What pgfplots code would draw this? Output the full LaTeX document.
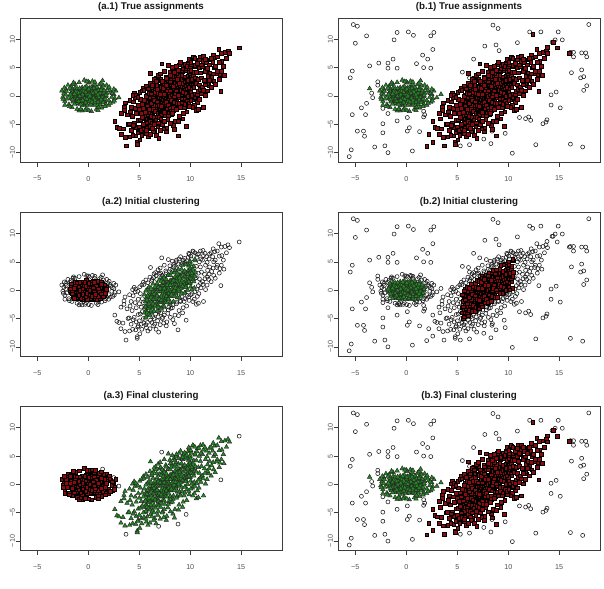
\documentclass[border=0pt]{standalone}
\usepackage{fontspec}
\setmainfont{Liberation Sans}
\usepackage{pgfplots}
\usepackage{pgfplotstable}
\pgfplotsset{compat=1.18}
\definecolor{rred}{RGB}{139,12,12}
\definecolor{ggreen}{RGB}{34,139,34}
\definecolor{axgray}{RGB}{60,60,60}
\definecolor{lblgray}{RGB}{80,80,80}

% green cluster: inner part
\pgfplotstableread{
x y
-1.5 0.3
-1.2 -0.8
-0.9 1.1
-0.7 -0.2
-0.4 0.6
-0.2 -1.3
0.0 0.2
0.3 -0.5
0.5 1.0
0.8 -0.1
1.1 0.7
1.3 -0.9
1.6 0.2
-1.7 -0.4
-1.4 1.0
-1.0 -1.4
-0.6 1.5
-0.3 -0.7
0.1 1.4
0.4 -1.6
0.7 0.4
1.0 -1.2
1.4 1.1
-0.8 0.3
-0.5 -1.0
-0.1 0.9
0.2 -0.1
0.6 -0.9
0.9 1.3
1.2 0.0
-1.3 -0.1
-1.1 0.5
-0.9 -0.6
-0.3 1.2
0.0 -0.4
0.3 0.7
0.6 -0.3
0.9 0.5
1.5 -0.5
-1.6 0.8
-1.2 -1.2
-0.4 -1.5
0.1 -1.0
0.5 1.6
1.0 -0.6
1.7 -0.1
-0.7 0.9
-0.2 0.0
0.4 0.2
0.8 1.0
-1.0 0.0
-0.6 -0.5
-0.1 -0.8
0.2 1.1
0.7 -1.4
1.1 0.3
1.3 1.5
-1.8 0.0
-1.5 -0.9
-1.3 1.4
-0.8 -1.1
-0.5 0.4
-0.2 1.7
0.0 0.5
0.3 -1.2
0.5 0.0
0.8 -0.8
1.2 -0.3
1.5 0.6
-1.1 1.3
-0.9 0.2
-0.6 -1.7
-0.3 -0.3
0.1 0.6
0.4 1.3
0.6 0.6
0.9 -1.6
1.3 0.4
1.6 -1.0
-1.4 -0.5
-1.0 0.8
-0.7 -0.9
-0.4 0.1
-0.1 -1.6
0.2 -0.7
0.5 -0.6
0.7 1.2
1.0 0.1
1.2 -1.5
-1.6 -0.2
-1.2 0.2
-0.8 0.6
-0.5 -1.3
-0.2 0.4
0.1 -0.2
0.4 0.9
0.6 -1.1
0.9 -0.3
1.4 -0.7
1.8 0.5
-0.6 1.1
-0.3 -1.0
0.0 1.0
0.3 0.0
0.8 0.2
1.1 -1.0
-1.3 0.6
-0.9 -0.3
-0.4 -0.4
0.2 0.3
0.6 0.9
1.0 1.0
-1.7 0.5
-0.1 0.1
0.5 -0.2
-0.8 -0.1
0.3 1.5
-1.1 -0.9
1.5 -0.2
-1.45 -1.05
-1.25 0.75
-1.05 -0.45
-0.85 1.35
-0.65 -0.15
-0.45 0.85
-0.25 -1.15
-0.05 0.35
0.15 -0.85
0.35 1.15
0.55 -0.35
0.75 0.75
0.95 -1.05
1.15 0.45
1.35 -0.25
1.55 0.95
1.65 -0.55
-1.75 0.25
-1.55 -0.65
-1.35 0.35
-1.15 -1.25
-0.95 0.55
-0.75 -1.45
-0.55 0.25
-0.35 1.45
-0.15 -0.55
0.05 1.25
0.25 -1.45
0.45 0.45
0.65 -0.75
0.85 1.55
1.05 -0.25
1.25 1.05
1.45 -1.15
-1.65 1.15
-0.95 -0.95
0.15 0.05
0.55 1.35
1.75 0.15
-1.35 -1.45
-0.55 -0.75
0.35 -1.05
0.95 0.25
-0.25 0.65
1.25 -0.65
-0.85 -0.05
}\Gcore

% green cluster: outer part
\pgfplotstableread{
x y
-2.4 0.5
-2.5 -0.2
-2.3 -0.9
-2.2 1.2
-2.0 1.9
-1.9 -1.5
-1.7 1.7
-1.6 -2.0
-1.3 2.1
-1.1 -2.3
-0.9 2.4
-0.6 -2.6
-0.4 2.8
-0.2 -2.2
0.1 2.3
0.3 -2.7
0.6 2.1
0.8 -2.3
1.1 2.0
1.3 -2.1
1.5 1.8
1.7 -1.5
1.9 1.3
2.0 -0.8
2.2 0.7
2.3 -0.2
2.1 1.0
2.5 0.3
2.7 0.9
2.4 -1.1
-2.6 0.9
-2.1 -0.5
-2.2 0.2
-0.9 -2.6
0.4 2.6
-1.5 2.1
2.0 -1.6
1.8 1.9
-0.3 -2.5
2.6 -0.4
-2.3 -1.6
1.0 -2.0
-1.8 1.4
0.0 2.5
-2.45 -0.55
-2.15 0.85
-1.85 -1.85
-1.45 2.35
-0.75 -2.35
0.05 -2.55
0.65 2.45
1.25 2.25
1.65 -1.85
2.05 1.55
2.35 0.45
2.15 -1.25
-2.35 1.45
-0.15 2.55
0.95 -2.55
2.55 -0.85
}\Gring

\pgfplotstableread{
x y
1.4 2.7
2.5 1.2
3.0 -0.3
}\Gfar

\pgfplotstableread{
x y
-3.6 1.3
3.4 0.3
}\Gbx

% elongated cluster: inner part
\pgfplotstableread{
x y
5.5 -3.1
5.6 -2.0
5.7 -1.3
5.7 -3.6
5.8 -2.6
5.9 -1.9
5.9 -3.2
6.0 -0.9
5.6 -2.9
6.0 -2.7
5.8 -1.0
6.1 -1.2
6.1 -2.9
6.2 -0.4
6.2 -2.0
6.3 -3.1
6.3 -1.5
6.4 -0.2
6.4 -2.4
6.5 -1.0
6.5 -2.8
6.5 0.1
6.6 -1.7
6.6 -0.5
6.7 -2.3
6.7 0.3
6.8 -1.1
6.8 -2.6
6.8 0.6
6.9 -0.3
6.9 -1.9
7.0 0.5
7.0 -1.4
7.0 -2.2
6.3 -2.6
6.6 -1.2
6.2 -1.0
6.9 0.2
6.4 -1.6
7.1 -0.2
7.1 -1.9
7.1 0.6
7.2 -1.0
7.2 -2.1
7.2 0.1
7.3 -0.6
7.3 -1.6
7.3 0.9
7.4 -0.1
7.4 -1.3
7.4 -2.0
7.5 0.4
7.5 -0.8
7.5 -1.7
7.5 1.2
7.6 -0.3
7.6 0.8
7.6 -1.5
7.7 0.1
7.7 -0.9
7.7 1.5
7.8 0.5
7.8 -1.2
7.8 -0.2
7.9 1.0
7.9 -0.6
7.9 0.3
8.0 -1.1
8.0 1.6
8.0 0.0
7.3 0.2
7.8 1.3
8.1 0.9
8.1 -0.8
8.1 1.7
8.2 0.2
8.2 -1.0
8.3 1.3
8.3 -0.3
8.3 2.0
8.4 0.6
8.4 -0.7
8.4 1.9
8.5 1.1
8.5 -0.2
8.5 2.3
8.6 0.3
8.6 1.6
8.6 -0.6
8.7 2.1
8.7 0.8
8.7 -0.3
8.8 1.4
8.8 2.5
8.8 0.1
8.9 1.0
8.9 2.7
8.9 -0.2
9.0 1.8
9.0 0.4
9.0 2.6
8.2 1.4
8.6 0.9
8.4 -0.1
9.1 1.0
9.1 2.4
9.1 0.3
9.2 1.7
9.2 3.0
9.3 0.8
9.3 2.2
9.4 1.4
9.4 3.2
9.4 0.6
9.5 2.5
9.5 1.1
9.6 3.1
9.6 1.8
9.6 0.7
9.7 2.7
9.7 1.3
9.8 3.5
9.8 2.0
9.9 1.2
9.9 3.0
10.0 2.2
10.0 3.8
10.0 1.3
10.1 2.0
10.1 3.4
10.2 2.7
10.3 1.9
10.3 3.6
10.4 2.5
10.5 3.2
5.5 -0.8
5.6 -4.9
5.8 0.2
6.0 -4.4
5.5 -4.0
6.2 -4.0
7.4 2.4
7.6 -2.1
7.8 2.6
7.2 2.0
8.0 -2.4
10.0 5.0
9.5 -0.4
9.7 4.6
10.4 0.4
10.5 5.2
5.65 -0.1
5.65 -4.7
5.75 -1.7
5.75 -4.0
5.95 0.5
5.95 -2.4
5.95 -4.2
6.05 -0.3
6.05 -4.5
6.15 -1.3
6.15 0.4
6.15 -3.6
6.35 -2.4
6.35 1.1
6.35 -0.3
6.45 -3.7
6.45 -0.7
6.55 0.6
6.55 -2.7
6.75 -3.7
6.75 1.2
6.75 -1.0
6.85 0.5
6.85 -3.0
6.95 -1.6
6.95 1.8
7.05 -3.2
7.05 0.3
7.15 1.6
7.15 -1.8
7.15 -3.3
7.35 1.4
7.35 -2.7
7.45 0.3
7.45 2.2
7.45 -2.9
7.65 -1.1
7.65 1.9
7.75 -2.2
7.75 0.9
7.85 2.7
7.85 -1.6
8.05 -2.1
8.05 2.6
8.05 0.9
8.15 -0.8
8.15 3.1
8.35 -2.0
8.35 1.7
8.45 3.1
8.45 -1.1
8.55 0.4
8.55 3.5
8.75 -1.3
8.75 2.9
8.85 0.1
8.85 3.6
8.95 -1.3
8.95 2.2
9.15 3.7
9.15 -0.5
9.25 0.7
9.25 4.4
9.45 -0.5
9.45 3.4
9.55 4.5
9.55 0.5
9.75 0.0
9.75 2.8
9.85 4.3
9.85 1.5
10.05 0.6
10.05 4.5
10.15 3.0
10.15 0.1
10.35 4.2
10.35 1.5
10.45 5.4
10.45 2.4
}\Rcore

% elongated cluster: outer part
\pgfplotstableread{
x y
2.6 -4.4
2.8 -5.5
3.0 -5.7
3.4 -5.8
3.5 -1.9
3.5 -2.5
3.8 -3.3
3.9 -5.0
4.0 -4.9
4.1 -2.8
4.2 -6.0
4.3 -3.6
4.4 -1.0
4.5 -4.8
4.5 0.5
4.6 -2.2
4.7 -5.6
4.7 -3.1
4.8 -8.2
4.8 -8.5
4.9 -1.6
4.9 -4.3
4.2 -2.0
4.6 -0.3
4.4 -5.2
4.9 -6.3
5.0 -5.4
5.0 -2.4
5.1 -0.6
5.1 -4.2
5.2 -3.0
5.2 -6.0
5.3 -1.5
5.3 -3.8
5.4 -5.0
5.4 1.4
5.4 -2.2
5.8 -5.7
6.1 4.0
5.7 -6.6
6.1 -5.3
6.2 1.6
6.3 -4.7
6.4 2.2
6.5 -6.0
6.6 -4.2
6.7 1.9
6.8 -5.4
7.0 2.8
6.4 -6.3
6.6 3.1
6.9 -3.8
7.1 -4.0
7.1 3.0
7.3 -4.8
7.5 -3.5
7.6 3.4
7.7 -5.6
7.9 -3.0
8.0 4.3
7.4 -5.8
7.8 -4.1
8.1 -3.2
8.2 3.5
8.3 -2.6
8.4 4.6
8.5 -4.4
8.6 3.9
8.7 -2.1
8.9 5.5
9.0 -1.9
8.3 -5.2
8.6 5.0
8.9 -3.6
9.1 4.5
9.2 -1.2
9.3 5.3
9.4 -2.0
9.5 4.9
9.7 -0.9
9.8 5.8
9.9 -1.8
9.3 -3.1
9.9 6.3
10.1 5.5
10.2 -0.6
10.3 6.8
10.6 2.2
10.6 4.2
10.7 -1.1
10.7 6.3
10.8 3.0
10.8 0.8
10.9 5.0
10.9 2.0
11.0 4.1
11.0 6.9
10.6 -2.5
10.8 -2.3
11.0 1.2
10.4 -1.6
11.1 3.2
11.2 5.3
11.2 1.5
11.3 6.1
11.4 2.8
11.5 4.4
11.5 0.1
11.6 5.9
11.7 3.5
11.8 1.9
11.9 6.4
11.9 4.1
11.3 -2.0
11.7 2.3
12.1 3.3
12.2 5.9
12.3 2.6
12.4 6.8
12.6 4.0
12.8 8.2
12.9 3.8
12.3 5.0
13.1 6.1
13.3 3.7
13.4 7.7
13.7 8.0
3.2 -3.0
3.2 -6.8
3.6 -7.3
3.6 -1.2
4.05 -0.8
4.05 -7.2
4.35 -6.9
4.35 0.1
4.65 -7.0
4.65 0.2
4.85 -0.2
4.85 -6.5
5.05 0.6
5.05 -7.7
5.25 -6.9
5.25 0.9
5.45 -5.8
5.45 1.0
5.65 1.8
5.65 -6.1
5.85 -7.2
5.85 1.3
6.05 2.3
6.05 -6.8
6.25 -5.7
6.25 1.9
6.45 2.9
6.45 -5.0
6.65 -6.9
6.65 2.6
6.85 3.6
6.85 -4.7
7.05 -6.1
7.05 3.9
7.25 2.6
7.25 -5.0
7.45 -4.4
7.45 4.4
7.65 3.1
7.65 -6.3
7.85 -3.5
7.85 5.4
8.05 3.7
8.05 -4.8
8.25 -3.1
8.25 5.1
8.45 4.2
8.45 -5.9
8.65 -2.4
8.65 5.3
8.85 4.6
8.85 -4.5
9.05 -2.0
9.05 5.9
9.25 -4.0
9.25 4.8
9.45 5.6
9.45 -1.5
9.65 -2.8
9.65 5.2
9.85 6.5
9.85 -1.2
10.05 -0.8
10.05 6.0
10.25 6.9
10.25 -2.0
10.45 -0.3
10.45 6.6
10.65 0.2
10.65 5.8
10.85 6.4
10.85 -0.6
11.05 0.4
11.05 5.5
11.25 7.0
11.25 1.0
11.45 2.0
11.45 6.5
11.65 4.9
11.65 0.9
11.85 2.8
11.85 5.5
12.05 6.6
12.05 1.5
12.25 3.9
12.25 7.3
12.45 2.1
12.45 5.3
12.65 6.9
12.65 4.4
12.85 3.0
12.85 6.0
13.05 7.6
13.05 4.4
13.25 5.3
13.55 6.6
13.85 7.5
}\Rring

\pgfplotstableread{
x y
3.7 -8.8
6.9 -7.4
7.2 5.7
8.8 -7.0
9.6 -5.3
13.0 0.8
14.8 8.5
}\Rfar

\pgfplotstableread{
x y
12.4 10.9
13.8 8.6
14.4 9.5
16.0 7.6
2.2 -6.8
2.0 -8.9
2.6 -8.1
3.3 -4.0
}\Rbx

% background noise
\pgfplotstableread{
x y
-5.2 12.6
-4.8 12.3
-5.0 9.3
-3.9 10.6
-5.3 4.4
-5.5 3.2
-3.6 5.3
-2.7 5.8
-1.8 5.8
-1.3 6.5
-1.8 4.9
-0.9 4.9
-1.2 9.9
-0.9 11.2
0.2 11.3
0.7 10.7
2.4 10.6
2.7 11.2
2.6 8.2
1.0 5.7
1.6 7.2
2.1 6.5
1.7 5.0
2.4 4.9
0.5 2.5
-2.8 2.5
-2.8 1.9
-3.4 0.5
-3.3 -0.3
-3.9 -1.3
-4.4 -2.1
-4.0 -3.3
-5.3 -3.3
-2.3 -2.2
-1.8 -3.1
-0.7 -2.4
0.1 -3.8
-0.9 -4.4
1.7 -3.7
1.8 -3.3
1.7 -2.7
-2.3 -4.9
-4.8 -6.2
-4.2 -6.2
-4.1 -7.1
-2.3 -6.5
-3.1 -9.0
-2.1 -8.8
-1.8 -10.0
-5.4 -9.5
-5.6 -10.7
0.3 -5.6
0.1 -6.2
1.3 -6.3
0.6 -9.7
5.5 4.2
6.2 3.2
6.6 6.5
7.7 8.8
8.5 12.5
9.0 11.9
8.8 9.0
9.1 8.0
10.9 9.4
12.1 11.3
13.2 11.3
14.6 9.9
14.3 9.5
14.9 11.3
15.3 9.9
16.1 7.7
16.4 6.9
16.4 7.7
17.9 12.6
17.2 7.6
17.6 7.6
17.7 6.9
16.2 4.1
17.2 4.6
17.1 3.2
17.4 3.4
17.7 1.8
17.4 1.0
14.7 0.7
14.2 0.2
14.2 -1.6
15.1 -2.1
13.8 -4.2
13.7 -4.6
13.4 -4.9
12.0 -3.7
11.7 -4.0
12.2 -4.3
11.1 -3.8
9.7 -6.6
8.4 -6.2
8.3 -8.4
7.6 -7.6
6.2 -8.6
5.3 -8.8
12.7 -8.6
10.4 -10.1
16.1 -8.5
17.3 -9.0
}\Noise

\pgfplotsset{
  every axis title/.style={at={(0.5,1)}, anchor=base, yshift=8.3bp, inner sep=0pt,
    font=\fontsize{9.8}{11}\selectfont\bfseries, text=black!90},
  panel/.style={
    scale only axis, width=262bp, height=144bp,
    xmin=-6.7, xmax=19.0, ymin=-11.7, ymax=13.7,
    xtick={-5,0,5,10,15}, xticklabels={−5,0,5,10,15},
    ytick={-10,-5,0,5,10}, yticklabels={−10,−5,0,5,10},
    tick pos=left, tick align=outside,
    major tick length=4.5bp,
    tick style={line width=0.6bp, color=axgray},
    axis line style={line width=0.8bp, color=axgray},
    xticklabel style={font=\fontsize{7.2}{8}\selectfont, text=lblgray, inner sep=0pt, anchor=north},
    xticklabel shift=9bp,
    yticklabel style={font=\fontsize{7.2}{8}\selectfont, text=lblgray, inner sep=0pt, rotate=90, anchor=south},
    yticklabel shift=0.3bp,
    clip=true,
  },
  sq/.style={only marks, mark=square*, mark size=1.85bp, mark options={fill=rred, draw=black, line width=0.45bp}},
  tri/.style={only marks, mark=triangle*, mark size=2.6bp, mark options={fill=ggreen, draw=black!85, line width=0.45bp}},
  circ/.style={only marks, mark=o, mark size=2.0bp, mark options={draw=black!90, line width=0.55bp}},
}

\begin{document}
\begin{tikzpicture}
\path[use as bounding box] (0,0) rectangle (604bp,589bp);

% (a.1)
\begin{axis}[panel, at={(20bp,570.7bp)}, anchor=north west, title={(a.1) True assignments}]
\addplot[tri] table {\Gcore};
\addplot[tri] table {\Gring};
\addplot[tri] table {\Gfar};
\addplot[sq] table {\Rcore};
\addplot[sq] table {\Rring};
\addplot[sq] table {\Rfar};
\end{axis}

% (b.1)
\begin{axis}[panel, at={(338bp,570.7bp)}, anchor=north west, title={(b.1) True assignments}]
\addplot[circ] table {\Noise};
\addplot[tri] table {\Gcore};
\addplot[tri] table {\Gring};
\addplot[tri] table {\Gfar};
\addplot[tri] table {\Gbx};
\addplot[sq] table {\Rcore};
\addplot[sq] table {\Rring};
\addplot[sq] table {\Rfar};
\addplot[sq] table {\Rbx};
\end{axis}

% (a.2)
\begin{axis}[panel, at={(20bp,376.5bp)}, anchor=north west, title={(a.2) Initial clustering}]
\addplot[circ] table {\Gring};
\addplot[circ] table {\Gfar};
\addplot[circ] table {\Rring};
\addplot[circ] table {\Rfar};
\addplot[sq] table {\Gcore};
\addplot[tri] table {\Rcore};
\end{axis}

% (b.2)
\begin{axis}[panel, at={(338bp,376.5bp)}, anchor=north west, title={(b.2) Initial clustering}]
\addplot[circ] table {\Noise};
\addplot[circ] table {\Gring};
\addplot[circ] table {\Gfar};
\addplot[circ] table {\Gbx};
\addplot[circ] table {\Rring};
\addplot[circ] table {\Rfar};
\addplot[circ] table {\Rbx};
\addplot[tri] table {\Gcore};
\addplot[sq] table {\Rcore};
\end{axis}

% (a.3)
\begin{axis}[panel, at={(20bp,182.3bp)}, anchor=north west, title={(a.3) Final clustering}]
\addplot[circ] table {\Gfar};
\addplot[circ] table {\Rfar};
\addplot[sq] table {\Gcore};
\addplot[sq] table {\Gring};
\addplot[tri] table {\Rcore};
\addplot[tri] table {\Rring};
\end{axis}

% (b.3)
\begin{axis}[panel, at={(338bp,182.3bp)}, anchor=north west, title={(b.3) Final clustering}]
\addplot[circ] table {\Noise};
\addplot[tri] table {\Gcore};
\addplot[tri] table {\Gring};
\addplot[tri] table {\Gfar};
\addplot[tri] table {\Gbx};
\addplot[sq] table {\Rcore};
\addplot[sq] table {\Rring};
\addplot[sq] table {\Rfar};
\addplot[sq] table {\Rbx};
\end{axis}
\end{tikzpicture}
\end{document}
